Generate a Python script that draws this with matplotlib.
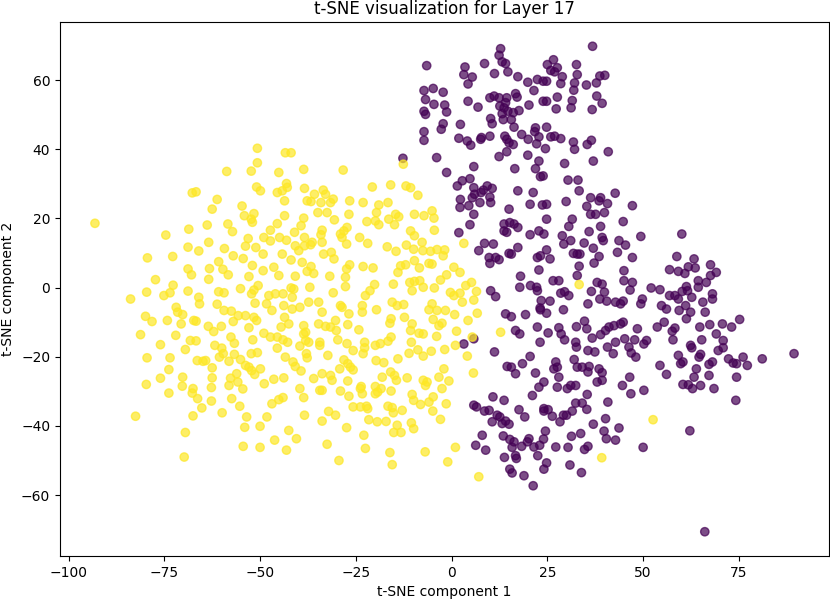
import numpy as np
import matplotlib
matplotlib.use("Agg")
import matplotlib.pyplot as plt

# t-SNE embedding of layer 17
# label 1 (yellow) cluster, left side
label1_left = [
    (-50.7, 40.3), (-50.7, 36.1), (-52.3, 33.7), (-58.7, 33.6), (-50.9, 29.1), (-49.9, 28.0),
    (-67.7, 27.4), (-66.7, 27.7), (-61.2, 25.5), (-62.5, 22.7), (-54.7, 23.6), (-51.6, 21.4),
    (-54.1, 20.8), (-52.3, 19.8), (-52.0, 18.9), (-93.1, 18.6), (-74.6, 15.2), (-68.6, 16.9),
    (-63.8, 18.1), (-58.4, 18.4), (-57.2, 16.2), (-53.1, 14.2), (-53.8, 12.0), (-51.1, 11.6),
    (-68.8, 11.7), (-66.0, 10.6), (-63.4, 13.1), (-59.3, 11.3), (-57.0, 9.2), (-54.4, 8.4),
    (-79.4, 8.6), (-72.8, 9.0), (-68.8, 5.4), (-67.9, 3.7), (-63.2, 5.5), (-60.8, 7.5),
    (-59.7, 5.3), (-58.3, 3.7), (-52.0, 6.4), (-52.9, 3.2), (-77.3, 2.3), (-72.7, 0.7),
    (-63.4, 2.4), (-79.6, -1.3), (-83.8, -3.3), (-75.1, -2.3), (-73.5, -1.5), (-68.8, -1.0),
    (-66.0, -2.8), (-65.8, -4.7), (-60.8, -1.2), (-59.4, -1.5), (-55.1, -0.3), (-52.2, -1.8),
    (-51.6, -0.7), (-51.3, -4.5), (-50.5, 0.6), (-61.2, -4.8), (-71.9, -5.7),
    (-79.9, -8.3), (-78.2, -9.8), (-74.2, -9.5), (-71.5, -7.1), (-70.2, -7.8), (-70.6, -10.5),
    (-67.3, -9.5), (-66.7, -9.7), (-63.5, -11.2), (-62.1, -12.7), (-60.1, -11.2), (-59.4, -6.6),
    (-57.5, -6.8), (-55.7, -8.1), (-53.8, -8.1), (-51.6, -8.6), (-50.9, -9.5), (-57.0, -9.8),
    (-52.9, -11.6), (-81.2, -13.6), (-76.0, -16.5), (-72.0, -13.8), (-68.2, -15.3), (-66.7, -15.4),
    (-69.5, -17.9), (-61.8, -16.7), (-60.0, -17.5), (-57.6, -14.3), (-56.7, -16.1), (-51.9, -15.1),
    (-79.5, -20.3), (-73.5, -20.3), (-66.4, -21.1), (-64.9, -21.3), (-64.2, -21.1), (-60.6, -20.1),
    (-59.6, -19.1), (-58.1, -21.3), (-56.7, -19.3), (-55.1, -20.8), (-53.8, -22.5), (-52.3, -19.1),
    (-50.7, -18.8), (-52.9, -23.0), (-52.2, -24.0), (-51.4, -25.1), (-49.9, -23.5), (-73.8, -23.7),
    (-76.0, -26.2), (-70.2, -25.9), (-62.5, -23.2), (-62.5, -26.1), (-57.7, -26.2), (-56.1, -24.9),
    (-55.8, -27.3), (-58.1, -28.3), (-79.7, -28.0), (-70.3, -28.5), (-67.5, -29.2), (-67.7, -30.5),
    (-62.7, -28.9), (-54.5, -29.3), (-73.8, -30.5), (-66.3, -32.1), (-65.2, -34.8), (-62.7, -32.8),
    (-57.4, -32.1), (-55.3, -34.3), (-59.9, -36.2), (-82.5, -37.2), (-67.5, -37.1), (-53.5, -37.4),
    (-54.0, -40.4), (-50.0, -40.1), (-69.5, -41.9), (-54.4, -45.9), (-50.0, -46.2), (-69.8, -49.0),
]

# label 1 (yellow) cluster, upper middle
label1_upper = [
    (-43.4, 39.0), (-41.9, 39.0), (-45.1, 33.3), (-38.6, 34.2), (-28.3, 34.0), (-43.1, 30.1),
    (-45.5, 27.5), (-44.2, 28.0), (-42.9, 29.0), (-43.6, 25.1), (-38.4, 28.7), (-35.8, 27.0),
    (-33.5, 28.2), (-32.9, 27.0), (-37.7, 25.1), (-36.7, 24.9), (-34.1, 24.6), (-31.6, 24.6),
    (-30.9, 25.6), (-26.6, 25.1), (-23.1, 24.6), (-20.7, 29.1), (-15.9, 29.7), (-11.9, 29.4),
    (-10.7, 28.9), (-8.8, 26.7), (-19.0, 23.9), (-16.6, 24.6), (-12.6, 35.7), (-43.6, 20.8),
    (-45.5, 18.5), (-47.3, 16.6), (-38.6, 20.1), (-39.3, 17.9), (-34.9, 21.7), (-32.5, 21.7),
    (-30.6, 19.6), (-26.8, 21.2), (-22.1, 19.1), (-19.6, 21.7), (-19.9, 19.3), (-19.0, 18.2),
    (-16.4, 19.8), (-14.6, 21.2), (-13.8, 20.5), (-14.9, 18.2), (-9.7, 21.2), (-7.2, 20.8),
    (-5.1, 22.2), (-4.6, 20.1), (-4.5, 16.6), (-10.7, 16.4), (-9.7, 15.0), (-27.3, 17.4),
    (-28.1, 16.4), (-49.0, 14.5), (-47.3, 13.5), (-44.9, 14.5), (-43.1, 13.7), (-41.0, 16.0),
    (-38.4, 14.5), (-36.4, 13.1), (-33.8, 16.6), (-34.1, 15.3), (-29.0, 15.5), (-28.6, 14.5),
    (-24.0, 14.5), (-21.9, 12.8), (-16.8, 11.8), (-14.5, 10.5), (-11.8, 12.3), (-9.9, 11.1),
    (-7.7, 13.1), (-7.5, 10.7), (-5.5, 10.5), (-3.8, 11.0), (-1.8, 10.9), (-2.2, 9.2),
    (-49.2, 9.7), (-44.2, 9.7), (-41.9, 8.0), (-40.8, 12.1), (-39.9, 10.7), (-38.4, 12.1),
    (-36.8, 12.4), (-33.8, 13.1), (-33.4, 9.7), (-31.4, 10.2), (-30.7, 8.3), (-27.4, 12.6),
    (-46.4, 5.9), (-45.1, 3.5), (-40.8, 3.3), (-39.0, 7.3), (-37.7, 4.7), (-36.7, 6.1),
    (-36.0, 4.1), (-31.8, 3.3), (-27.4, 5.4), (-26.6, 6.6), (-23.1, 6.1), (-20.5, 5.7),
    (-14.0, 4.4), (-13.3, 6.3), (-12.0, 6.6), (-9.7, 7.8), (-8.4, 5.7), (-5.9, 7.0),
    (-5.1, 6.8), (0.6, 5.9), (2.2, 4.4), (-1.3, 3.7), (-49.2, 4.9), (-47.7, -2.3),
    (-46.0, -1.8), (-44.0, -1.8), (-41.9, -0.1), (-41.2, -0.4), (-41.6, -2.8), (-37.0, 0.1),
    (-30.9, -1.5), (-27.7, 3.0), (-27.7, 0.3), (-22.5, -2.3), (-21.3, -0.9), (-20.1, 0.9),
    (-15.2, 1.0), (-10.9, 1.5), (-9.7, 1.8), (-8.3, 2.0), (-7.4, 0.1), (-10.3, -0.9),
    (-4.5, -0.1), (-2.9, 2.2), (-0.3, -1.4), (0.6, -2.3), (2.2, -1.6),
]

# label 1 (yellow) cluster, lower middle
label1_lower = [
    (-48.3, -4.7), (-46.9, -6.6), (-43.8, -5.2), (-41.6, -6.2), (-39.6, -5.7), (-37.3, -4.2),
    (-34.7, -4.2), (-33.8, -7.1), (-29.0, -5.2), (-28.6, -5.7), (-26.8, -7.6), (-23.3, -5.2),
    (-23.3, -7.1), (-19.6, -6.4), (-15.5, -4.2), (-14.2, -5.2), (-12.5, -4.9), (-5.9, -6.4),
    (-5.1, -4.7), (-3.8, -6.6), (-1.6, -6.6), (0.8, -7.8), (-43.6, -8.6), (-44.5, -11.4),
    (-42.5, -10.5), (-38.6, -11.0), (-38.1, -12.9), (-34.7, -10.5), (-32.9, -11.2), (-31.6, -11.4),
    (-30.1, -12.4), (-30.3, -9.5), (-27.1, -10.7), (-24.2, -12.2), (-15.8, -9.0), (-16.1, -10.3),
    (-12.3, -8.6), (-10.3, -10.5), (-10.7, -12.4), (-8.5, -13.2), (-7.4, -13.4), (-4.8, -9.2),
    (-3.3, -11.0), (-2.5, -10.3), (-3.9, -14.1), (1.3, -12.6), (-49.0, -13.2), (-47.3, -14.3),
    (-45.5, -14.3), (-44.0, -15.1), (-42.8, -15.8), (-45.5, -17.5), (-39.6, -16.9), (-38.6, -13.4),
    (-38.1, -15.3), (-37.3, -15.8), (-34.4, -15.8), (-34.4, -16.7), (-29.7, -15.1), (-27.3, -16.2),
    (-25.7, -18.2), (-22.7, -15.8), (-22.7, -17.4), (-23.1, -19.1), (-19.9, -16.7), (-18.6, -16.2),
    (-16.6, -15.5), (-15.8, -14.3), (-10.5, -15.8), (-11.1, -19.0), (-8.8, -18.0), (-7.4, -19.8),
    (-5.3, -18.4), (-1.8, -17.9), (1.0, -16.7), (-43.4, -20.1), (-41.4, -21.5), (-40.8, -22.8),
    (-39.3, -24.1), (-37.9, -19.1), (-37.7, -20.3), (-32.3, -19.6), (-28.1, -20.9), (-27.1, -22.0),
    (-25.7, -23.8), (-26.4, -23.0), (-29.2, -23.5), (-19.7, -21.1), (-17.7, -21.7), (-14.0, -20.6),
    (-15.9, -24.4), (-14.9, -25.4), (-14.4, -26.8), (-11.6, -26.1), (-2.0, -23.5), (-48.9, -27.8),
    (-46.4, -26.5), (-43.8, -26.1), (-39.6, -29.2), (-38.6, -31.8), (-36.0, -26.3), (-33.8, -24.9),
    (-31.6, -25.4), (-31.2, -26.8), (-34.4, -29.7), (-33.8, -29.7), (-29.0, -29.9), (-27.1, -27.0),
    (-26.8, -31.4), (-23.6, -28.6), (-23.3, -30.7), (-23.8, -29.2), (-19.9, -28.6), (-19.3, -30.2),
    (-19.9, -30.7), (-18.1, -25.9), (-18.4, -29.2), (-15.8, -29.9), (-7.4, -26.8), (-6.4, -27.3),
    (-6.8, -28.3), (-3.3, -25.9), (-0.7, -27.0), (-2.5, -29.2), (-46.9, -33.6), (-45.1, -32.4),
    (-44.0, -31.8), (-25.7, -34.5), (-23.8, -34.5), (-22.2, -34.3), (-21.9, -35.0), (-16.6, -34.3),
    (-15.5, -34.7), (-15.2, -36.2), (-12.9, -35.5), (-10.3, -30.9), (-9.9, -32.6), (-8.1, -33.8),
    (-5.9, -33.1), (-4.8, -31.6), (-4.9, -35.7), (-1.4, -33.6), (-2.9, -38.1), (-48.2, -37.4),
    (-38.4, -36.9), (-33.8, -38.6), (-32.1, -35.8), (-30.3, -36.9), (-27.4, -40.5), (-21.6, -38.2),
    (-19.4, -38.8), (-17.1, -38.7), (-14.2, -39.8), (-15.1, -41.9), (-13.2, -41.9), (-10.5, -39.1),
    (-9.9, -40.8), (-42.5, -41.3), (-40.5, -43.7), (-46.2, -44.1), (-43.1, -47.0), (-32.5, -45.3),
    (-22.9, -42.7), (-22.5, -46.5), (-16.1, -47.7), (-15.5, -51.2), (-6.9, -47.5), (1.0, -46.2),
    (-1.0, -50.4), (-29.4, -50.0),
]

# label 1 (yellow) points mixed into the purple cluster
label1_stray = [
    (3.2, 12.8), (3.7, 0.6), (5.2, 1.5), (6.5, -1.1), (2.8, -4.2), (5.8, -3.6), (6.7, -7.4),
    (4.3, -9.5), (12.8, -12.9), (5.4, -14.3), (4.1, -19.8), (5.7, -24.7), (33.3, 0.9),
    (7.1, -54.7), (39.2, -49.2), (52.6, -38.2),
]

# label 0 (purple) cluster, top part
label0_top = [
    (-6.5, 64.2), (12.8, 69.1), (12.4, 67.2), (13.2, 65.3), (14.1, 64.8), (14.7, 62.4),
    (8.6, 64.8), (3.5, 63.8), (3.2, 61.6), (5.4, 60.9), (4.3, 58.9), (11.2, 61.9),
    (17.3, 61.0), (19.9, 59.4), (22.4, 60.2), (23.9, 59.7), (24.8, 59.7), (25.0, 64.5),
    (26.6, 65.9), (25.9, 62.8), (26.9, 62.4), (27.6, 63.6), (28.9, 61.0), (28.5, 59.0),
    (32.6, 64.5), (32.8, 61.6), (32.1, 59.2), (31.9, 57.1), (35.2, 58.6), (37.8, 59.2),
    (38.7, 61.2), (40.0, 61.4), (36.8, 69.8), (21.5, 57.0), (-7.2, 57.0), (-4.8, 57.6),
    (-2.2, 56.5), (-6.8, 54.4), (-4.6, 53.0), (-1.8, 52.8), (-1.3, 50.8), (-6.8, 50.1),
    (-7.2, 51.0), (4.3, 53.9), (6.9, 52.2), (10.0, 54.9), (11.1, 55.4), (12.4, 54.9),
    (14.4, 54.9), (16.7, 56.1), (17.1, 55.1), (12.6, 52.5), (13.7, 52.0), (14.1, 53.5),
    (14.7, 51.0), (16.1, 50.6), (17.6, 51.2), (20.2, 52.8), (23.9, 53.9), (24.8, 53.9),
    (27.6, 55.1), (27.3, 51.7), (31.5, 54.1), (31.2, 52.0), (37.9, 55.4), (39.3, 53.3),
    (36.7, 51.5), (10.2, 48.9), (10.6, 47.4), (13.5, 48.6), (15.6, 48.6), (16.3, 46.4),
    (13.2, 50.3), (-2.2, 47.4), (-2.7, 45.8), (2.3, 47.2), (-7.2, 45.1), (-7.2, 42.6),
    (1.9, 43.2), (4.1, 42.4), (5.0, 41.2), (7.6, 42.9), (7.8, 43.4), (10.0, 43.8),
    (13.9, 43.8), (14.4, 42.9), (15.0, 41.9), (16.1, 41.4), (18.3, 44.3), (20.0, 42.9),
    (21.9, 46.2), (21.7, 45.1), (22.8, 43.6), (22.2, 41.6), (24.8, 46.4), (25.9, 43.6),
    (26.9, 43.8), (28.5, 43.1), (24.5, 40.2), (31.8, 42.1), (32.1, 40.0), (35.4, 41.4),
    (36.5, 42.6), (40.9, 39.3), (-3.9, 37.6), (12.4, 37.9), (14.4, 39.3), (19.9, 38.3),
    (22.8, 36.6), (5.8, 35.0), (-1.3, 33.3), (16.5, 34.4), (21.9, 34.4), (23.2, 32.1),
    (23.9, 32.3), (29.5, 35.9), (37.0, 36.6), (1.5, 29.4), (2.8, 30.9), (4.8, 31.5),
    (5.8, 28.9), (8.3, 28.2), (9.3, 29.4), (10.6, 28.7), (6.0, 27.0), (5.4, 26.0),
    (7.7, 27.5), (10.0, 26.2), (2.3, 25.5), (7.4, 24.6), (4.5, 23.7), (10.2, 24.6),
    (2.2, 23.2), (15.0, 22.7), (17.3, 28.0), (21.3, 27.5), (20.5, 24.1), (23.7, 23.9),
    (24.8, 24.1), (29.9, 24.9), (30.4, 31.1), (33.0, 31.1), (33.3, 28.0), (36.3, 26.0),
    (38.9, 26.0), (38.5, 25.1), (40.7, 24.3), (42.7, 27.3), (35.3, 23.5), (-12.7, 37.4),
    (1.9, 15.9), (47.2, 23.7),
]

# label 0 (purple) cluster, middle part
label0_mid = [
    (5.8, 21.2), (15.2, 18.8), (13.7, 18.4), (16.3, 18.4), (17.3, 17.4), (14.4, 16.0),
    (13.7, 16.4), (4.8, 18.2), (24.8, 19.8), (31.5, 19.8), (30.6, 17.7), (36.3, 21.2),
    (37.6, 21.2), (39.9, 21.7), (38.9, 17.7), (44.8, 19.1), (35.9, 16.2), (28.9, 15.0),
    (29.3, 12.6), (31.1, 13.6), (34.6, 12.9), (37.0, 11.4), (39.3, 14.5), (39.6, 13.6),
    (43.7, 13.6), (45.4, 12.3), (49.4, 14.8), (20.5, 15.3), (22.8, 16.4), (24.1, 15.5),
    (8.6, 12.8), (10.9, 12.6), (7.1, 10.7), (9.8, 8.7), (10.0, 7.0), (11.5, 8.7),
    (12.4, 8.1), (15.0, 9.9), (15.6, 9.7), (17.3, 11.6), (23.2, 9.2), (24.8, 10.9),
    (25.7, 8.3), (22.4, 8.7), (31.8, 9.9), (32.8, 9.7), (33.5, 9.7), (38.5, 9.0),
    (37.2, 7.1), (43.3, 10.2), (47.2, 8.7), (33.3, 6.2), (22.8, 5.1), (18.0, 3.3),
    (17.8, 0.1), (20.6, 0.6), (22.2, 0.1), (22.4, -0.9), (26.5, 2.0), (28.0, 2.0),
    (28.5, -1.6), (29.5, -1.2), (30.6, -2.3), (32.8, 3.5), (36.5, -1.1), (35.6, -4.7),
    (38.0, 1.5), (39.3, 1.0), (39.9, -1.3), (38.7, -3.3), (40.5, -3.9), (42.8, -4.2),
    (44.1, -4.7), (44.8, -3.9), (45.0, 4.9), (45.0, 2.0), (46.6, -0.7), (47.2, 1.5),
    (49.8, -3.3), (49.4, -4.7), (52.1, -0.1), (54.4, -0.6), (10.2, -0.9), (11.5, -2.6),
    (23.4, -3.75), (25.7, -3.9), (23.2, -6.4), (23.1, -5.9), (24.8, -7.4), (29.2, -6.4),
    (14.1, -7.6), (15.6, -8.4), (19.3, -7.8), (16.7, -12.4), (17.8, -13.4), (22.4, -11.4),
    (25.2, -13.1), (28.0, -11.6), (28.6, -13.4), (29.5, -15.1), (32.6, -11.3), (35.3, -11.9),
    (34.7, -9.7), (36.7, -14.6), (32.4, -15.8), (32.6, -17.2), (35.6, -18.2), (37.4, -18.6),
    (38.9, -13.6), (40.2, -12.4), (41.1, -11.4), (42.4, -11.0), (44.1, -10.5), (44.8, -10.0),
    (42.8, -15.8), (45.2, -14.8), (40.7, -17.2), (42.2, -19.1), (46.3, -17.2), (47.8, -15.1),
    (48.5, -11.9), (50.2, -16.3), (50.9, -15.3), (53.7, -11.4), (46.9, -18.9), (48.1, -20.1),
    (54.4, -22.5), (5.8, -14.8), (3.2, -16.3), (11.2, -18.6), (23.1, -15.8), (20.5, -19.9),
    (18.5, -22.0), (14.5, -22.8), (15.6, -23.0), (16.7, -24.9), (21.9, -24.7), (24.1, -27.3),
    (22.8, -28.8), (27.6, -23.0), (27.2, -21.5), (26.7, -23.5), (28.0, -25.9), (32.0, -20.8),
    (32.8, -23.0), (34.1, -23.0), (35.9, -22.8), (35.6, -24.4), (38.5, -23.5), (39.3, -24.6),
    (38.0, -27.3), (39.3, -26.8), (31.1, -28.3), (32.4, -28.3), (27.6, -28.8), (30.2, -29.2),
    (44.6, -28.3), (46.5, -25.9), (50.2, -29.7),
]

# label 0 (purple) cluster, right lobe
label0_right = [
    (60.1, 15.5), (58.8, 9.0), (63.3, 8.3), (56.9, 5.2), (59.2, 4.7), (60.9, 4.1),
    (61.8, 6.0), (63.6, 5.7), (67.6, 6.6), (69.1, 4.4), (67.6, 3.5), (64.4, 2.0),
    (66.5, 1.5), (64.4, 0.1), (61.3, 0.3), (61.6, -0.9), (60.2, -1.1), (58.3, -2.3),
    (56.9, -2.3), (59.2, -3.3), (62.7, -2.8), (65.6, -4.2), (68.1, -1.8), (68.1, -3.3),
    (54.8, -5.2), (56.1, -6.2), (59.4, -6.6), (61.1, -5.2), (62.4, -7.1), (66.2, -7.1),
    (61.3, -9.0), (55.5, -10.0), (58.3, -11.7), (57.6, -12.6), (57.8, -15.1), (64.8, -11.4),
    (67.4, -10.7), (70.7, -10.5), (73.1, -11.4), (75.2, -9.2), (69.1, -13.4), (65.3, -15.1),
    (70.9, -15.3), (69.6, -18.2), (70.9, -17.4), (62.4, -16.7), (62.7, -17.4), (59.2, -19.6),
    (60.4, -21.5), (59.8, -22.0), (65.0, -19.3), (64.6, -20.1), (68.1, -21.5), (67.2, -22.2),
    (72.3, -20.6), (73.5, -21.8), (74.4, -22.0), (76.1, -20.1), (77.2, -22.5), (81.1, -20.6),
    (89.4, -19.1), (56.1, -25.1), (63.9, -23.5), (63.3, -25.9), (67.2, -25.4), (74.4, -25.9),
    (60.4, -28.0), (61.8, -28.1), (65.0, -28.3), (68.5, -29.2), (62.9, -29.2), (74.2, -32.6),
    (62.2, -41.4), (66.1, -70.6),
]

# label 0 (purple) cluster, bottom part
label0_bottom = [
    (10.8, -31.6), (13.7, -32.6), (21.1, -31.2), (35.4, -30.9), (46.8, -30.7), (5.8, -34.0),
    (6.5, -34.5), (8.6, -35.7), (9.8, -35.5), (10.6, -38.8), (11.9, -36.9), (12.6, -37.4),
    (13.2, -39.3), (14.1, -38.6), (15.0, -39.5), (17.6, -35.3), (19.1, -37.4), (24.1, -35.0),
    (24.1, -35.7), (25.2, -35.3), (26.3, -37.2), (28.3, -38.8), (29.2, -36.9), (30.0, -36.9),
    (31.5, -35.7), (32.4, -33.4), (34.1, -33.4), (35.3, -35.2), (40.8, -33.1), (37.0, -39.5),
    (40.2, -37.9), (43.7, -40.6), (39.8, -41.5), (40.4, -43.7), (42.8, -44.1), (50.0, -46.2),
    (8.0, -42.7), (6.3, -45.6), (8.9, -47.0), (13.5, -42.9), (15.2, -43.9), (16.3, -44.6),
    (15.8, -46.2), (18.3, -45.9), (19.8, -44.6), (20.2, -43.7), (21.5, -46.1), (23.0, -45.6),
    (24.0, -43.8), (24.5, -41.5), (27.2, -46.1), (30.4, -46.2), (31.3, -43.0), (33.7, -42.2),
    (34.7, -46.8), (35.6, -45.9), (22.5, -48.6), (13.8, -49.1), (16.7, -48.6), (16.9, -49.4),
    (24.8, -50.7), (24.1, -52.5), (15.2, -52.5), (15.8, -53.6), (18.9, -54.4), (21.3, -57.3),
    (30.9, -51.3), (33.9, -53.5),
]

label0 = np.array(label0_top + label0_mid + label0_right + label0_bottom)
label1 = np.array(label1_left + label1_upper + label1_lower + label1_stray)

points = np.vstack([label0, label1])
labels = np.concatenate([np.zeros(len(label0)), np.ones(len(label1))])

fig = plt.figure(figsize=(8.3, 6), dpi=100)
ax = fig.add_axes([60 / 830, 44 / 600, 769 / 830, 534 / 600])
ax.scatter(points[:, 0], points[:, 1], c=labels, cmap='viridis', alpha=0.7)

ax.set_title('t-SNE visualization for Layer 17')
ax.set_xlabel('t-SNE component 1')
ax.set_ylabel('t-SNE component 2')

fig.savefig('out.png', dpi=100)
